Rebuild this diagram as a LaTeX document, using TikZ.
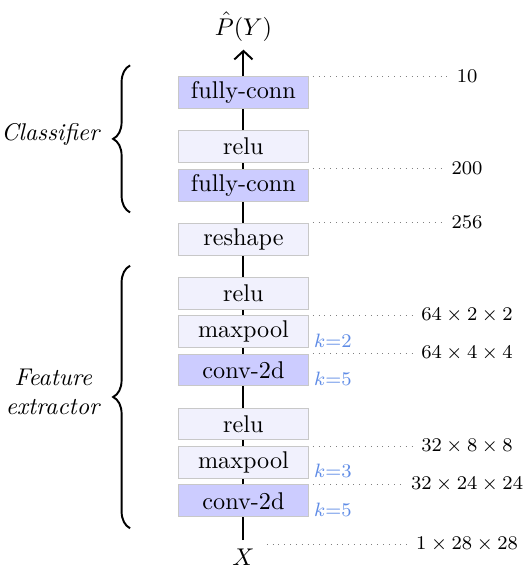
\documentclass[tikz,border=0pt]{standalone}
\usepackage{amsmath,amssymb}
\usepackage{tikz}
\usetikzlibrary{arrows.meta,decorations.pathreplacing}
\definecolor{layerdark}{RGB}{204,204,255}
\definecolor{layerlight}{RGB}{241,241,253}
\definecolor{layerline}{RGB}{200,200,200}
\definecolor{kblue}{RGB}{95,140,230}

\tikzset{
	layer/.style={draw=layerline, rectangle, minimum width=53.7pt, minimum height=13.2pt, inner sep=0pt},
	weighted/.style={layer, fill=layerdark},
	passive/.style={layer, fill=layerlight},
	dimlbl/.style={font=\footnotesize},
	dimline/.style={dotted, gray},
	klbl/.style={font=\footnotesize, text=kblue, anchor=base west, inner sep=0pt},
	flow/.style={thick},
	groupbrace/.style={thick, decorate, decoration={brace, amplitude=7pt}}
}

\begin{document}
\begin{tikzpicture}[node distance=15.9pt]
	\useasboundingbox (-100.6pt,-27.3pt) rectangle (117.1pt,207.0pt);

	% layers, from input to output
	\node[weighted] (conv1) {conv-2d};
	\node[passive, above of=conv1] (pool1) {maxpool};
	\node[passive, above of=pool1] (relu1) {relu};
	\node[weighted, above of=relu1, yshift=6.4pt] (conv2) {conv-2d};
	\node[passive, above of=conv2] (pool2) {maxpool};
	\node[passive, above of=pool2] (relu2) {relu};
	\node[passive, above of=relu2, yshift=6.4pt] (reshape) {reshape};
	\node[weighted, above of=reshape, yshift=6.4pt] (fc1) {fully-conn};
	\node[passive, above of=fc1] (relu3) {relu};
	\node[weighted, above of=relu3, yshift=6.4pt] (fc2) {fully-conn};

	\node[above of=fc2, yshift=11.4pt] (py) {$\hat{P}(Y)$};
	\node[below of=conv1, yshift=-7.2pt] (x) {$X$};

	\draw[flow] (x) -- (conv1);
	\draw[flow] (conv1) -- (pool1);
	\draw[flow] (pool1) -- (relu1);
	\draw[flow] (relu1) -- (conv2);
	\draw[flow] (conv2) -- (pool2);
	\draw[flow] (pool2) -- (relu2);
	\draw[flow] (relu2) -- (reshape);
	\draw[flow] (reshape) -- (fc1);
	\draw[flow] (fc1) -- (relu3);
	\draw[flow] (relu3) -- (fc2);
	\draw[flow, ->, >={Straight Barb[length=3.5pt, width=7.5pt]}] (fc2) -- (py);

	% output sizes
	\node[dimlbl] (d0) at ([xshift=92.4pt]fc2.north) {$10$};
	\node[dimlbl] (d1) at ([xshift=92.4pt]fc1.north) {$200$};
	\node[dimlbl] (d2) at ([xshift=92.4pt]reshape.north) {$256$};
	\node[dimlbl] (d3) at ([xshift=92.4pt]pool2.north) {$64\times2\times2$};
	\node[dimlbl] (d4) at ([xshift=92.4pt]conv2.north) {$64\times4\times4$};
	\node[dimlbl] (d5) at ([xshift=92.4pt]pool1.north) {$32\times8\times8$};
	\node[dimlbl] (d6) at ([xshift=92.4pt]conv1.north) {$32\times24\times24$};
	\node[dimlbl] (d7) at ([xshift=92.4pt, yshift=5pt]x.center) {$1\times28\times28$};

	\draw[dimline] ([xshift=1.6pt]fc2.north east) -- (d0);
	\draw[dimline] ([xshift=1.6pt]fc1.north east) -- (d1);
	\draw[dimline] ([xshift=1.6pt]reshape.north east) -- (d2);
	\draw[dimline] ([xshift=1.6pt]pool2.north east) -- (d3);
	\draw[dimline] ([xshift=1.6pt]conv2.north east) -- (d4);
	\draw[dimline] ([xshift=1.6pt]pool1.north east) -- (d5);
	\draw[dimline] ([xshift=1.6pt]conv1.north east) -- (d6);
	\draw[dimline] (x.east |- d7) ++(1.6pt,0) -- (d7);

	% kernel sizes
	\node[klbl] (k0) at ([xshift=2pt, yshift=0.4pt]pool2.south east) {$k{=}2$};
	\node[klbl] (k1) at ([xshift=2pt, yshift=0.4pt]conv2.south east) {$k{=}5$};
	\node[klbl] (k2) at ([xshift=2pt, yshift=0.4pt]pool1.south east) {$k{=}3$};
	\node[klbl] (k3) at ([xshift=2pt, yshift=0.4pt]conv1.south east) {$k{=}5$};

	% groups
	\draw[groupbrace] ([xshift=-19.8pt, yshift=-4.5pt]fc1.south west) -- node[left=8.3pt, yshift=2pt] (cls) {\textit{Classifier}} ([xshift=-19.8pt, yshift=4.5pt]fc2.north west);
	\draw[groupbrace] ([xshift=-19.8pt, yshift=-4.5pt]conv1.south west) -- node[left=8.3pt, yshift=2pt, align=center] (feat) {\textit{Feature}\\\textit{extractor}} ([xshift=-19.8pt, yshift=4.5pt]relu2.north west);
\end{tikzpicture}
\end{document}
